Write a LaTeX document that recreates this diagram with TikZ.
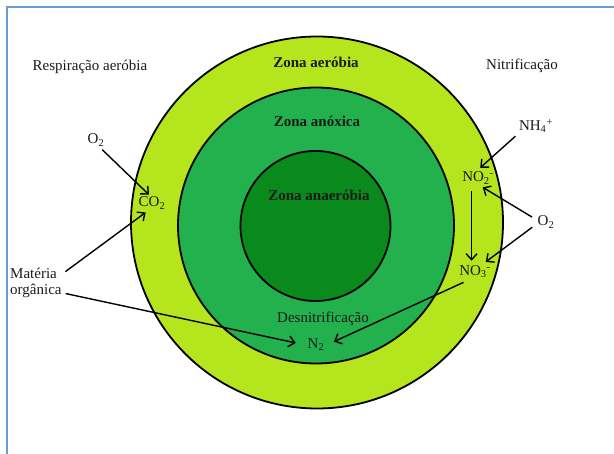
\documentclass[tikz,border=0pt]{standalone}
\usepackage{fontspec}
\setmainfont{Liberation Serif}
\usetikzlibrary{arrows.meta}
\definecolor{limez}{HTML}{B5E61D}
\definecolor{midz}{HTML}{22B14C}
\definecolor{darkz}{HTML}{0A8A1C}
\definecolor{framebl}{HTML}{6A9BD3}
\definecolor{txt}{HTML}{1A1A1A}
\begin{document}
\begin{tikzpicture}[x=1pt,y=-1pt,
  lbl/.style={font=\fontsize{15}{17}\selectfont, text=txt, inner sep=2pt},
  zlbl/.style={font=\fontsize{15}{17}\selectfont\bfseries, text=txt, inner sep=2pt},
  zone/.style={circle, draw=black, line width=1.8pt, inner sep=0pt},
  arr/.style={line width=1.4pt, -{Straight Barb[length=6pt,width=11pt,line width=1.4pt]}}]
\useasboundingbox (0,0) rectangle (614,454);
% frame
\draw[framebl, line width=2pt] (6.5,470) -- (6.5,7.5) -- (630,7.5);
% zones
\node[zone, fill=limez, minimum size=372pt] (outer) at (317,222.5) {};
\node[zone, fill=midz, minimum size=276pt] (mid) at (316,225.5) {};
\node[zone, fill=darkz, minimum size=150pt] (inner) at (315.5,226) {};
% zone labels
\node[zlbl] (zaer) at (316,62) {Zona aeróbia};
\node[zlbl] (zanox) at (317,121) {Zona anóxica};
\node[zlbl] (zanaer) at (319,195) {Zona anaeróbia};
% side titles
\node[lbl] (resp) at (90,67) {Respiração aeróbia};
\node[lbl] (nitr) at (522,66) {Nitrificação};
% left species
\node[lbl] (o2l) at (96,140) {O\textsubscript{2}};
\node[lbl] (co2) at (152,203) {CO\textsubscript{2}};
\node[lbl, align=left, anchor=west] (mat) at (8,283) {Matéria\\[-1pt]orgânica};
% bottom
\node[lbl] (desn) at (323,319) {Desnitrificação};
\node[lbl] (n2) at (316,345) {N\textsubscript{2}};
% right species
\node[lbl] (nh4) at (536,126) {NH\textsubscript{4}\textsuperscript{+}};
\node[lbl] (no2) at (478,178) {NO\textsubscript{2}\textsuperscript{-}};
\node[lbl] (o2r) at (546,222) {O\textsubscript{2}};
\node[lbl] (no3) at (475,272) {NO\textsubscript{3}\textsuperscript{-}};
% arrows
\draw[arr, shorten <=2pt] (o2l.-60) -- (co2.110);
\draw[arr, shorten <=2pt, shorten >=2pt] (mat.20) -- (co2.-120);
\draw[arr, shorten <=2pt, shorten >=10pt] (mat.-20) -- (n2.west);
\draw[arr, shorten <=5pt, shorten >=8pt] (no3.-130) -- (n2.east);
\draw[arr, shorten <=2pt, shorten >=3pt] (nh4.south west) -- (no2.north);
\draw[arr, shorten <=4pt, shorten >=2pt] (o2r.165) -- (no2.-70);
\draw[arr, shorten <=4pt, shorten >=3pt] (o2r.195) -- (no3.45);
\draw[arr, shorten <=5pt, shorten >=3pt] (no2.-128) -- (no2.-128 |- no3.north);
\end{tikzpicture}
\end{document}
